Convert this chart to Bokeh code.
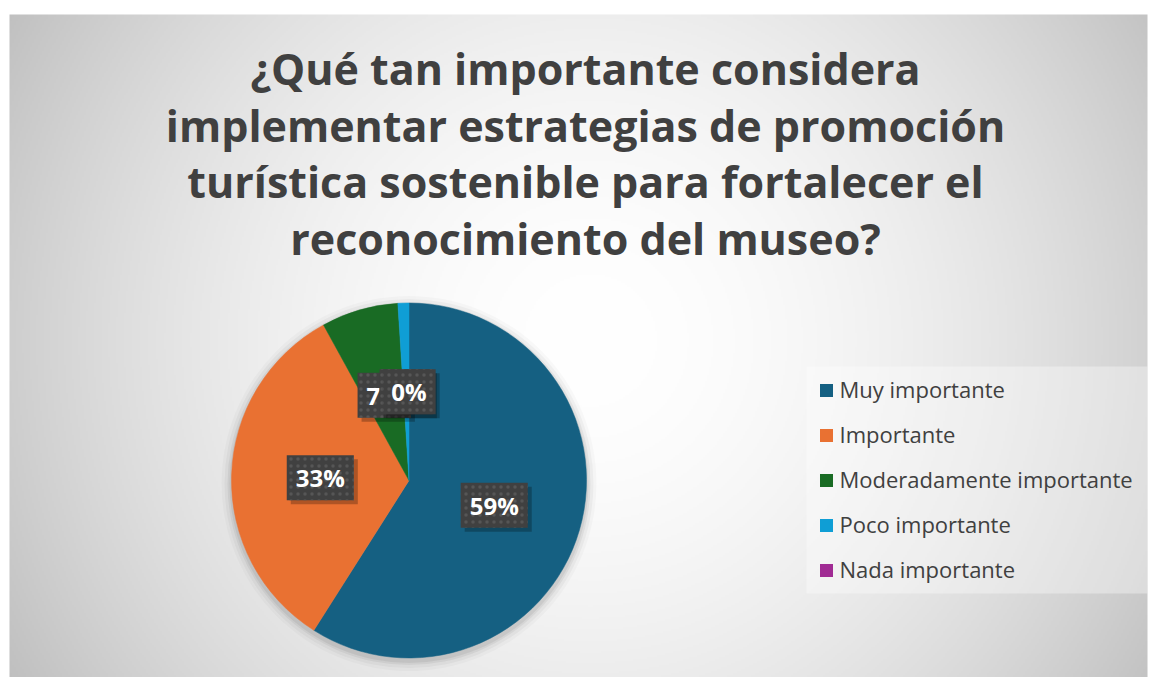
import numpy as np
from bokeh.plotting import figure
from bokeh.models import Range1d, ColumnDataSource
from bokeh.core.properties import value
from bokeh.embed import file_html
from bokeh.resources import INLINE

# ---------------- data ----------------
categories = ["Muy importante", "Importante", "Moderadamente importante",
              "Poco importante", "Nada importante"]
percent = [59, 33, 7, 1, 0]
colors = ["#156082", "#E97132", "#196B24", "#0F9ED5", "#A02B93"]
title_lines = ["¿Qué tan importante considera",
               "implementar estrategias de promoción",
               "turística sostenible para fortalecer el",
               "reconocimiento del museo?"]

# ---------------- layout (px; 1 data unit = 1 px) ----------------
W, H = 1149, 677
FONT = "Open Sans"
TXT = "#404040"

def sy(screen_y):  # screen y -> data y
    return H - screen_y

def sx(screen_x):
    return screen_x

p = figure(width=W, height=H, output_backend="svg", toolbar_location=None,
           x_range=Range1d(0, W), y_range=Range1d(0, H),
           x_axis_location=None, y_axis_location=None, min_border=0,
           background_fill_color="white", border_fill_color="white")
p.outline_line_color = None
p.grid.visible = False

# background radial gradient panel
gh, gw = 332, 569
x0, x1 = 9, 1147
y0, y1 = 0, sy(14)
yy, xx = np.mgrid[0:gh, 0:gw]
dxs = x0 + (xx + 0.5) / gw * (x1 - x0)
dys = y0 + (yy + 0.5) / gh * (y1 - y0)
scr_x = dxs
scr_y = H - dys
d = np.sqrt(((scr_x - 590) / 620.0) ** 2 + ((scr_y - 340) / 620.0) ** 2)
c = np.clip(255 - 55 * d ** 1.8, 0, 255).astype(np.uint8)
img = np.empty((gh, gw), dtype=np.uint32)
view = img.view(dtype=np.uint8).reshape((gh, gw, 4))
view[..., 0] = c
view[..., 1] = c
view[..., 2] = c
view[..., 3] = 255
p.image_rgba(image=[img], x=x0, y=y0, dw=x1 - x0, dh=y1 - y0)

# ---------------- pie ----------------
cx, cy, r = sx(408.5), sy(480), 177.5
total = float(sum(percent))
cum = np.cumsum([0] + percent) / total
starts = np.pi / 2 - 2 * np.pi * cum[:-1]
ends = np.pi / 2 - 2 * np.pi * cum[1:]
mids = (starts + ends) / 2

# soft shadow
for k, a in [(10, 0.025), (7, 0.035), (4, 0.05), (2, 0.06)]:
    p.circle(x=[cx], y=[cy - 3], radius=r + k, fill_color="black",
             fill_alpha=a, line_color=None)

nz = [i for i, v in enumerate(percent) if v > 0]
src = ColumnDataSource(dict(
    start=[starts[i] for i in nz], end=[ends[i] for i in nz],
    color=[colors[i] for i in nz]))
p.wedge(x=cx, y=cy, radius=r, start_angle="start", end_angle="end",
        direction="clock", fill_color="color", line_color="color",
        line_width=0.5, source=src)

# data labels (best-fit at half radius along mid angle)
lab = dict(
    x=[cx + 0.5 * r * np.cos(m) for m in mids],
    y=[cy + 0.5 * r * np.sin(m) for m in mids],
    text=[f"{v}%" for v in percent])
for i in range(len(percent)):
    one = ColumnDataSource({k: [v[i]] for k, v in lab.items()})
    # shadow
    p.text(x="x", y="y", text="text", source=one, x_offset=4, y_offset=4,
           text_align="center", text_baseline="middle",
           text_font=value(FONT), text_font_style="bold",
           text_font_size="24px", text_alpha=0,
           background_fill_color="black", background_fill_alpha=0.25,
           padding=(9, 6))
    p.text(x="x", y="y", text="text", source=one,
           text_align="center", text_baseline="middle",
           text_font=value(FONT), text_font_style="bold",
           text_font_size="24px", text_color="white",
           background_fill_color="#404040",
           background_hatch_pattern="dot", background_hatch_color="#595959",
           background_hatch_scale=7, background_hatch_alpha=0.9,
           padding=(9, 6))

# ---------------- title ----------------
tsrc = ColumnDataSource(dict(
    x=[sx(585)] * len(title_lines),
    y=[sy(68 + 56.7 * i) for i in range(len(title_lines))],
    text=title_lines))
p.text(x="x", y="y", text="text", source=tsrc, text_align="center",
       text_baseline="middle", text_font=value(FONT),
       text_font_style="bold", text_font_size="43px", text_color=TXT)

# ---------------- legend ----------------
p.quad(left=sx(806), right=sx(1147), bottom=sy(593), top=sy(366),
       fill_color="white", fill_alpha=0.35, line_color=None)
ly = [sy(390 + 45 * i) for i in range(len(categories))]
p.rect(x=[sx(826)] * len(categories), y=ly, width=13, height=13,
       fill_color=colors, line_color=None)
p.text(x=[sx(839)] * len(categories), y=[v + 2 for v in ly], text=categories,
       text_align="left", text_baseline="middle", text_font=value(FONT),
       text_font_size="22px", text_color=TXT)

open("out.html", "w").write(file_html(p, INLINE))
